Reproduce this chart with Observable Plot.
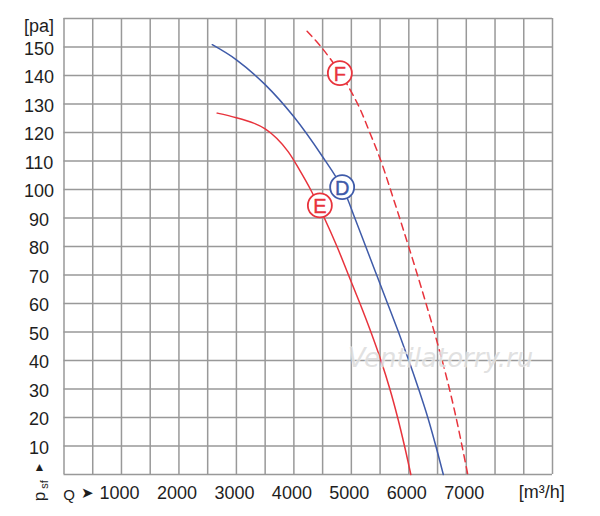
<!DOCTYPE html>
<html>
<head>
<meta charset="utf-8">
<script src="https://cdn.jsdelivr.net/npm/d3@7"></script>
<script src="https://cdn.jsdelivr.net/npm/@observablehq/plot@0.6"></script>
<style>
  html, body { margin: 0; padding: 0; background: #fff; }
  #chart svg { display: block; }
</style>
</head>
<body>
<div id="chart"></div>
<script>
// Tick labels
const xTickLabels = [1000, 2000, 3000, 4000, 5000, 6000, 7000];
const yTickLabels = [10, 20, 30, 40, 50, 60, 70, 80, 90, 100, 110, 120, 130, 140, 150];
const xGrid = d3.range(0, 8501, 500);
const yGrid = d3.range(0, 161, 10);

// Curve D (blue, solid)
const curveD_Q = [2580, 3000, 3500, 4000, 4500, 4860, 5060, 5250, 5440, 5630, 5820, 6000, 6170, 6330, 6470, 6600];
const curveD_P = [150.8, 145.5, 136.8, 125.5, 111.5, 100, 90, 80, 70, 60, 50, 40, 30, 20, 10, 0];

// Curve E (red, solid)
const curveE_Q = [2666, 3000, 3300, 3500, 3700, 3900, 4100, 4290, 4530, 4750, 4950, 5150, 5340, 5515, 5670, 5805, 5925, 6035];
const curveE_P = [126.8, 125.2, 123.3, 121.3, 118, 113.3, 106.8, 100, 90, 80, 70, 60, 50, 40, 30, 20, 10, 0];

// Curve F (red, dashed)
const curveF_Q = [4230, 4475, 4800, 5110, 5320, 5515, 5680, 5840, 5997, 6150, 6299, 6443, 6580, 6707, 6822, 6926, 7026];
const curveF_P = [155.5, 150, 141, 130, 120, 110, 100, 90, 80, 70, 60, 50, 40, 30, 20, 10, 0];

// Curve badges
const badgeNames = ["D", "E", "F"];
const badgeQ = [4840, 4452, 4800];
const badgeP = [100.8, 94.4, 140.8];

const BLUE = "#3f5ba9";
const RED = "#e8333c";
const colorOf = {D: BLUE, E: RED, F: RED};

const toPts = (qs, ps) => qs.map((q, i) => ({q, p: ps[i]}));
const dataD = toPts(curveD_Q, curveD_P);
const dataE = toPts(curveE_Q, curveE_P);
const dataF = toPts(curveF_Q, curveF_P);
const badges = badgeNames.map((n, i) => ({n, q: badgeQ[i], p: badgeP[i]}));

const GRID = "#999999";
const TXT = "#1e1e1e";
const FS = 18;

const chart = Plot.plot({
  width: 600,
  height: 516,
  marginLeft: 63.5,
  marginRight: 48,
  marginTop: 18,
  marginBottom: 42,
  style: {fontFamily: "'Liberation Sans', Arial, sans-serif", background: "#fff"},
  x: {domain: [0, 8500], axis: null},
  y: {domain: [0, 160], axis: null},
  marks: [
    Plot.ruleX(xGrid, {stroke: GRID, strokeWidth: 1.5}),
    Plot.ruleY(yGrid, {stroke: GRID, strokeWidth: 1.5}),
    Plot.line(dataD, {x: "q", y: "p", stroke: BLUE, strokeWidth: 1.5, curve: "catmull-rom"}),
    Plot.line(dataE, {x: "q", y: "p", stroke: RED, strokeWidth: 1.5, curve: "catmull-rom"}),
    Plot.line(dataF, {x: "q", y: "p", stroke: RED, strokeWidth: 1.5, strokeDasharray: "7,5", curve: "catmull-rom"}),
    Plot.dot(badges, {x: "q", y: "p", r: 12, fill: "#fff", stroke: d => colorOf[d.n], strokeWidth: 1.8}),
    Plot.text(badges, {x: "q", y: "p", text: "n", fill: d => colorOf[d.n], stroke: d => colorOf[d.n], strokeWidth: 0.4, fontSize: 20, dy: 1}),
    // watermark
    Plot.text(["Ventilatorry.ru"], {x: 6551, y: 40.7, text: d => d, fontSize: 26, fontStyle: "italic",
      fontFamily: "'DejaVu Sans', sans-serif", fill: "#dcdcdc", fillOpacity: 0.85,
      stroke: "#ffffff", strokeOpacity: 0.6, strokeWidth: 1, textAnchor: "middle"}),
    // y tick labels
    Plot.text(yTickLabels, {x: 0, y: d => d, text: d => String(d), dx: -25, dy: 2, fill: TXT, fontSize: FS, textAnchor: "middle"}),
    Plot.text(["[pa]"], {x: 0, y: 160, text: d => d, dx: -25, dy: 8, fill: TXT, fontSize: FS, textAnchor: "middle"}),
    // x tick labels
    Plot.text(xTickLabels, {x: d => d, y: 0, text: d => String(d), dx: -2, dy: 19, fill: TXT, fontSize: FS, textAnchor: "middle"}),
    Plot.text(["[m³/h]"], {x: 8000, y: 0, text: d => d, dx: 18, dy: 18, fill: TXT, fontSize: FS, textAnchor: "middle"}),
    Plot.text(["Q"], {x: 0, y: 0, text: d => d, dx: 5, dy: 21, fill: TXT, fontSize: 15, textAnchor: "middle"}),
    Plot.text(["➤"], {x: 0, y: 0, text: d => d, dx: 23, dy: 19, fill: TXT, fontSize: 15, textAnchor: "middle"}),
    // psf ▲
    Plot.text(["▲"], {x: 0, y: 0, text: d => d, dx: -24.5, dy: -7, fill: TXT, fontSize: 12, textAnchor: "middle"}),
    Plot.text(["p"], {x: 0, y: 0, text: d => d, dx: -24, dy: 22, fill: TXT, fontSize: 17, rotate: -90, textAnchor: "middle"}),
    Plot.text(["sf"], {x: 0, y: 0, text: d => d, dx: -20, dy: 10, fill: TXT, fontSize: 11, rotate: -90, textAnchor: "middle"})
  ]
});
document.getElementById("chart").appendChild(chart);
</script>
</body>
</html>
